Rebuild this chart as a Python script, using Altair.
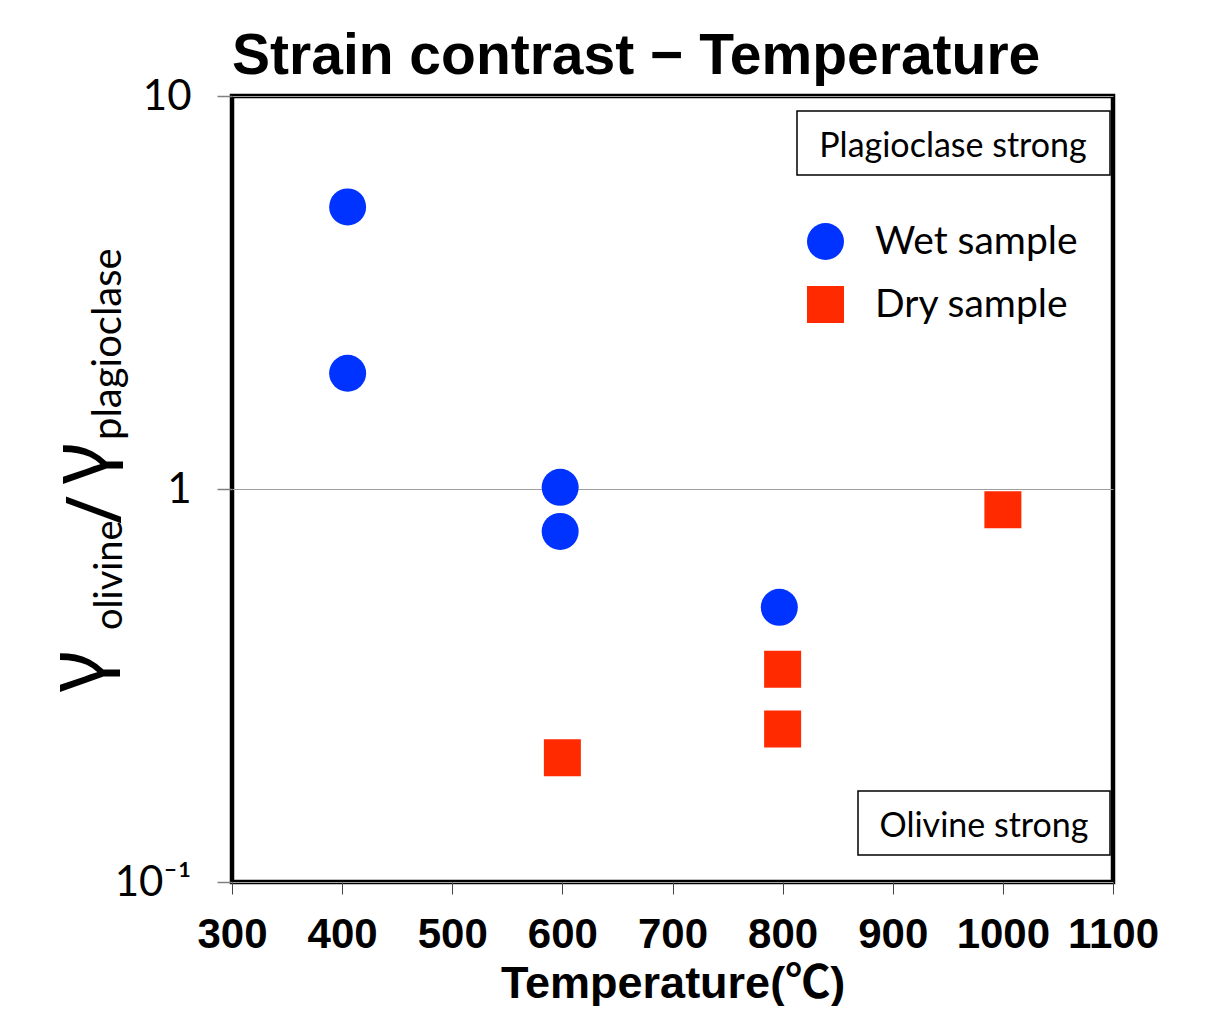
import altair as alt
import pandas as pd

# ---- data ----
series = ["Wet sample", "Dry sample"]
wet_temp = [405, 405, 598, 598, 797]
wet_ratio = [5.22, 1.97, 1.01, 0.78, 0.50]
dry_temp = [600, 800, 800, 1000]
dry_ratio = [0.207, 0.348, 0.245, 0.885]
x_ticks = [300, 400, 500, 600, 700, 800, 900, 1000, 1100]
y_ticks = [0.1, 1, 10]
title_text = "Strain contrast − Temperature"
x_title = "Temperature(℃)"
box_top_text = "Plagioclase strong"
box_bottom_text = "Olivine strong"

df = pd.DataFrame({
    "Temperature": wet_temp + dry_temp,
    "Ratio": wet_ratio + dry_ratio,
    "Sample": [series[0]] * len(wet_temp) + [series[1]] * len(dry_temp),
})

W, H = 881, 786
OX, OY = 232, 96  # page position of plot origin

SANS = "'Liberation Sans', Arial, sans-serif"
CAL = "Lato, 'Noto Sans', sans-serif"

legend_kw = dict(title=None, orient="none", legendX=574, legendY=126,
                 symbolSize=1369, symbolStrokeWidth=0,
                 labelFont=CAL, labelFontSize=39, labelColor="black",
                 labelOffset=30, rowPadding=23, padding=0, labelLimit=400)

points = alt.Chart(df).mark_point(filled=True, opacity=1, size=1369, strokeWidth=0).encode(
    x=alt.X("Temperature:Q",
            scale=alt.Scale(domain=[300, 1100], nice=False, zero=False),
            axis=alt.Axis(values=x_ticks, title=x_title, format="d",
                          domain=False, grid=False, labelFlush=False, labelOverlap=False,
                          labelFont=SANS, labelFontSize=42, labelFontWeight="bold",
                          labelColor="black", labelBaseline="alphabetic", labelPadding=53,
                          tickSize=12, tickColor="#444444", tickWidth=1,
                          titleFont="'Liberation Sans', 'Noto Sans CJK JP', sans-serif",
                          titleFontSize=45, titleFontWeight="bold", titleColor="black",
                          titleX=W / 2, titleY=115, titleAlign="center",
                          titleBaseline="alphabetic")),
    y=alt.Y("Ratio:Q",
            scale=alt.Scale(type="log", domain=[0.1, 10], nice=False),
            axis=alt.Axis(values=y_ticks, title=None, domain=False,
                          labelExpr="datum.value < 0.5 ? '10⁻¹' : (datum.value < 5 ? '1' : '10')",
                          labelFont=CAL, labelFontSize=42, labelColor="black",
                          labelPadding=26, labelBaseline="middle",
                          labelFlush=False, labelOverlap=False,
                          tickSize=15, tickColor="#808080", tickWidth=1.5,
                          grid=True, gridColor="#a0a0a0", gridWidth=1)),
    color=alt.Color("Sample:N",
                    scale=alt.Scale(domain=series, range=["#0033ff", "#ff2a00"]),
                    legend=alt.Legend(**legend_kw)),
    shape=alt.Shape("Sample:N",
                    scale=alt.Scale(domain=series, range=["circle", "square"]),
                    legend=alt.Legend(**legend_kw)),
)


def box(x1, x2, y1, y2):
    return alt.Chart(pd.DataFrame({"b": [0]})).mark_rect(
        fill="white", stroke="black", strokeWidth=1.5
    ).encode(x=alt.value(x1 - OX), x2=alt.value(x2 - OX),
             y=alt.value(y1 - OY), y2=alt.value(y2 - OY))


def label(text, px, py, size, font=CAL, angle=0, align="center", baseline="middle"):
    kw = dict(font=font, fontSize=size, color="black", align=align, baseline=baseline)
    if angle:
        kw["angle"] = angle
    return alt.Chart(pd.DataFrame({"t": [text]})).mark_text(**kw).encode(
        x=alt.value(px - OX), y=alt.value(py - OY), text="t:N")


GREEK = "'Noto Sans', sans-serif"
layers = [
    points,
    box(797, 1110, 111, 175),
    label(box_top_text, 953, 147, 34),
    box(858, 1110, 791, 855),
    label(box_bottom_text, 984, 827, 34),
    # y-axis title: γ_olivine / γ_plagioclase (rotated)
    label("γ", 103, 692, 80, font=GREEK, angle=270, align="left", baseline="alphabetic"),
    label("olivine", 122, 630, 38, angle=270, align="left", baseline="alphabetic"),
    label("/", 121, 524, 76, font=GREEK, angle=270, align="left", baseline="alphabetic"),
    label("γ", 106, 484, 80, font=GREEK, angle=270, align="left", baseline="alphabetic"),
    label("plagioclase", 121, 440, 40, angle=270, align="left", baseline="alphabetic"),
]

chart = alt.layer(*layers).properties(
    width=W, height=H,
    background="white",
    autosize=alt.AutoSizeParams(type="none"),
    padding={"left": 224, "top": 88, "right": 100, "bottom": 124},
    title=alt.TitleParams(text=title_text, anchor="start", frame="group",
                          font=SANS, fontSize=57,
                          fontWeight="bold", color="black", baseline="alphabetic",
                          offset=8, dy=64),
).configure_view(stroke="black", strokeWidth=4.5)

chart.save("out.html", embed_options={"renderer": "svg", "actions": False})
